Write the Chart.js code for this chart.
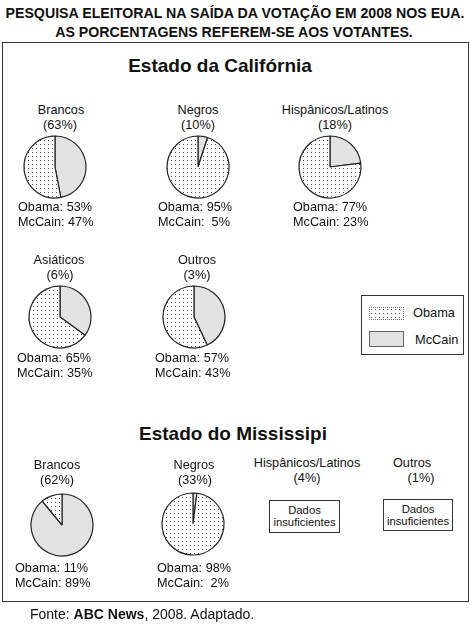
<!DOCTYPE html>
<html><head><meta charset="utf-8">
<script src="https://cdn.jsdelivr.net/npm/chart.js@4.4.1/dist/chart.umd.min.js"></script>
<style>
html,body{margin:0;padding:0;background:#fff;}
#page{position:relative;width:470px;height:625px;overflow:hidden;font-family:"Liberation Sans",Arial,Helvetica,sans-serif;color:#111;background:#fff;}
.t{position:absolute;white-space:pre;line-height:1;}
.c{transform:translate(-50%,-50%);}
.l{transform:translateY(-50%);}
canvas.pie{position:absolute;}
.box{position:absolute;box-sizing:border-box;}
</style></head><body><div id="page"></div>
<script>
// ---------- DATA ----------
const title1 = 'PESQUISA ELEITORAL NA SAÍDA DA VOTAÇÃO EM 2008 NOS EUA.';
const title2 = 'AS PORCENTAGENS REFEREM-SE AOS VOTANTES.';
const caTitle = 'Estado da Califórnia';
const msTitle = 'Estado do Mississipi';
const candidates = ['Obama', 'McCain'];

const caGroups = ['Brancos', 'Negros', 'Hispânicos/Latinos', 'Asiáticos', 'Outros'];
const caShares = [63, 10, 18, 6, 3];
const caObama  = [53, 95, 77, 65, 57];
const caMcCain = [47, 5, 23, 35, 43];

const msGroups = ['Brancos', 'Negros', 'Hispânicos/Latinos', 'Outros'];
const msShares = [62, 33, 4, 1];
const msObama  = [11, 98, null, null];
const msMcCain = [89, 2, null, null];
const noDataText = ['Dados', 'insuficientes'];

// ---------- LAYOUT ----------
const caPieXY   = [[55,167],[198,167],[330,167],[60,317],[194,317]];
const caNameXY  = [[61,110],[198,110],[335,110],[59,260],[197,260]];
const caShareXY = [[60,125],[198,125],[335,125],[60,275],[197,275]];
const caResXY   = [[18,207],[158,207],[293,207],[17,358],[155,358]];

const msPieXY   = [[62,525],[193,524]];
const msNameXY  = [[57,465],[194,465],[307,463],[412,463]];
const msShareXY = [[57,480],[195,480],[307,478],[421,478]];
const msResXY   = [[15,568],[157,568]];
const msBoxes   = [null, null, [269,500,71,33], [383,499,70,32]];

const R = 31, CS = 72;
const GRAY = '#e2e2e2', LINE = '#222';
const page = document.getElementById('page');

function txt(s, x, y, size, cls, extra) {
  const d = document.createElement('div');
  d.className = 't ' + cls;
  d.textContent = s;
  d.style.left = x + 'px'; d.style.top = y + 'px';
  d.style.fontSize = size + 'px';
  if (extra) Object.assign(d.style, extra);
  page.appendChild(d);
  return d;
}

// dotted pattern
const tile = document.createElement('canvas');
tile.width = 4; tile.height = 4;
const tc = tile.getContext('2d');
tc.fillStyle = '#fff'; tc.fillRect(0,0,4,4);
tc.fillStyle = '#555'; tc.fillRect(1,1,1,1);

function pie(cx, cy, mccain, obama) {
  const cv = document.createElement('canvas');
  cv.className = 'pie'; cv.width = CS; cv.height = CS;
  cv.style.left = (cx - CS/2) + 'px'; cv.style.top = (cy - CS/2) + 'px';
  cv.style.width = CS + 'px'; cv.style.height = CS + 'px';
  page.appendChild(cv);
  const pat = cv.getContext('2d').createPattern(tile, 'repeat');
  new Chart(cv, {
    type: 'pie',
    data: { labels: [candidates[1], candidates[0]],
      datasets: [{ data: [mccain, obama], backgroundColor: [GRAY, pat],
        borderColor: LINE, borderWidth: 1.2 }] },
    options: { responsive: false, animation: false, radius: R,
      layout: { padding: 0 }, events: [],
      plugins: { legend: { display: false }, tooltip: { enabled: false } } }
  });
}

// main frame
const frame = document.createElement('div');
frame.className = 'box';
Object.assign(frame.style, { left:'2px', top:'42px', width:'467px', height:'560px', border:'1.5px solid #333' });
page.appendChild(frame);

txt(title1, 235, 13, 14.2, 'c', { fontWeight:'bold' });
txt(title2, 234, 32, 14.2, 'c', { fontWeight:'bold' });
txt(caTitle, 220, 65, 19, 'c', { fontWeight:'bold' });
txt(msTitle, 233, 433, 19, 'c', { fontWeight:'bold' });

function fmtRes(name, v) {
  return name + ': ' + (v < 10 ? ' ' : '') + v + '%';
}

caGroups.forEach((g, i) => {
  txt(g, caNameXY[i][0], caNameXY[i][1], 12.7, 'c');
  txt('(' + caShares[i] + '%)', caShareXY[i][0], caShareXY[i][1], 12.7, 'c');
  pie(caPieXY[i][0], caPieXY[i][1], caMcCain[i], caObama[i]);
  txt(fmtRes(candidates[0], caObama[i]), caResXY[i][0], caResXY[i][1], 12.7, 'l');
  txt(fmtRes(candidates[1], caMcCain[i]), caResXY[i][0], caResXY[i][1] + 15, 12.7, 'l');
});

msGroups.forEach((g, i) => {
  txt(g, msNameXY[i][0], msNameXY[i][1], 12.7, 'c');
  txt('(' + msShares[i] + '%)', msShareXY[i][0], msShareXY[i][1], 12.7, 'c');
  if (msObama[i] != null) {
    pie(msPieXY[i][0], msPieXY[i][1], msMcCain[i], msObama[i]);
    txt(fmtRes(candidates[0], msObama[i]), msResXY[i][0], msResXY[i][1], 12.7, 'l');
    txt(fmtRes(candidates[1], msMcCain[i]), msResXY[i][0], msResXY[i][1] + 15, 12.7, 'l');
  } else {
    const b = msBoxes[i];
    const d = document.createElement('div');
    d.className = 'box';
    Object.assign(d.style, { left:b[0]+'px', top:b[1]+'px', width:b[2]+'px', height:b[3]+'px', border:'1px solid #333' });
    page.appendChild(d);
    txt(noDataText[0], b[0] + b[2]/2, b[1] + 11, 11.3, 'c');
    txt(noDataText[1], b[0] + b[2]/2, b[1] + 23, 11.3, 'c');
  }
});

// legend
const lg = document.createElement('div');
lg.className = 'box';
Object.assign(lg.style, { left:'361px', top:'295px', width:'103px', height:'60px', border:'1px solid #333' });
page.appendChild(lg);
const sw1 = document.createElement('div');
sw1.className = 'box';
Object.assign(sw1.style, { left:'369px', top:'307px', width:'35px', height:'13px', border:'1px dotted #777',
  backgroundImage:'url(' + tile.toDataURL() + ')' });
page.appendChild(sw1);
const sw2 = document.createElement('div');
sw2.className = 'box';
Object.assign(sw2.style, { left:'369px', top:'331px', width:'35px', height:'16px', border:'1px solid #666', background:GRAY });
page.appendChild(sw2);
txt(candidates[0], 413, 313, 12.8, 'l');
txt(candidates[1], 415, 340, 12.8, 'l');

// footer
const f = txt('', 30, 614, 14, 'l');
f.innerHTML = 'Fonte: <b>ABC News</b>, 2008. Adaptado.';
</script>
</body></html>
